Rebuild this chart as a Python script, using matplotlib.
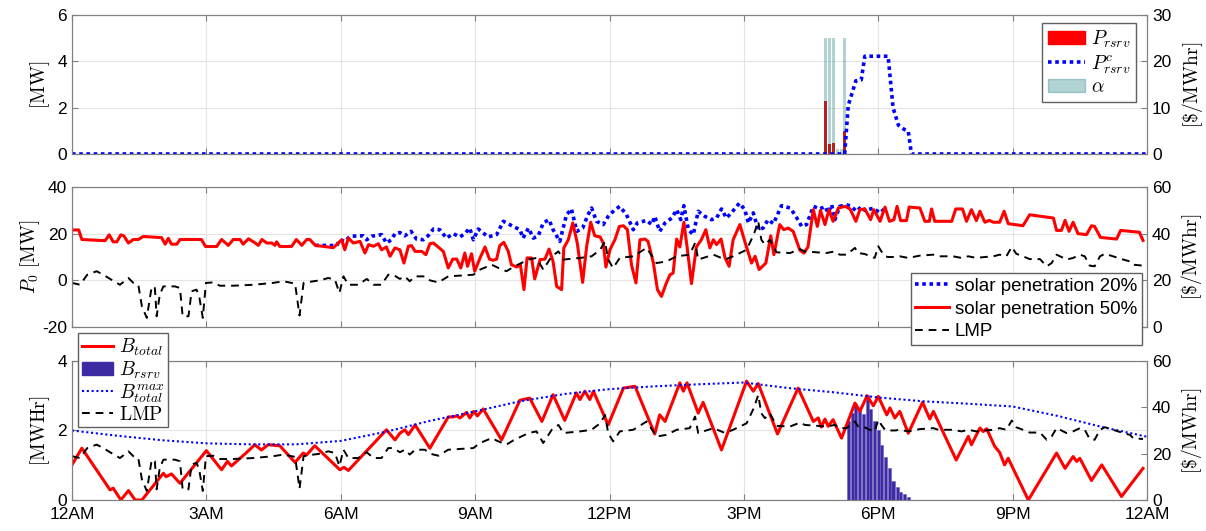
import numpy as np
import matplotlib
matplotlib.use('Agg')
import matplotlib.pyplot as plt
from matplotlib.patches import Patch
from matplotlib.lines import Line2D

plt.rcParams['font.family'] = ['Liberation Sans', 'DejaVu Sans']
plt.rcParams['mathtext.fontset'] = 'cm'
plt.rcParams['axes.unicode_minus'] = False

# ---------------- data (hour of day, value) ----------------
# top panel: reserve power bars (5 min slots) and reserve price
rsrv_hours = [16.83, 16.92, 17.0, 17.08, 17.17, 17.25]
p_rsrv = [2.29, 0.45, 0.48, 0.0, 0.0, 1.0]
alpha = [5.0, 5.0, 5.0, 0.2, 0.2, 5.0]
price_rsrv_pts = [(0, 0), (17.25, 0), (17.33, 10.5), (17.42, 13.3), (17.5, 15.8),
                  (17.62, 16.0), (17.7, 21.1), (18.22, 21.1), (18.33, 10.0),
                  (18.45, 6.2), (18.58, 5.3), (18.67, 4.9), (18.74, 0), (24, 0)]

# middle panel: P0 for 50% solar
p0_50_pts = [
    (0, 21.6), (0.15, 21.6), (0.22, 17.5), (0.74, 17.0), (0.83, 19.5), (0.92, 16.5),
    (1.0, 16.5), (1.09, 19.5), (1.16, 19.0), (1.26, 16.0), (1.37, 17.5), (1.48, 17.5),
    (1.59, 18.8), (2.0, 18.3), (2.08, 15.5), (2.15, 18.0), (2.22, 15.5), (2.34, 15.5),
    (2.41, 17.5), (2.89, 17.5), (2.98, 14.5), (3.23, 14.5), (3.34, 17.5), (3.49, 15.0),
    (3.6, 17.5), (3.75, 17.5), (3.82, 15.5), (3.94, 17.8), (4.05, 16.5), (4.16, 15.0),
    (4.24, 17.5), (4.35, 16.0), (4.46, 16.0), (4.53, 15.0), (4.57, 16.5), (4.64, 14.5),
    (4.9, 14.5), (5.01, 17.5), (5.13, 15.0), (5.24, 17.5), (5.31, 17.5), (5.43, 15.0),
    (5.83, 14.0), (5.91, 15.3), (6.02, 17.4), (6.09, 13.1), (6.17, 18.1), (6.28, 16.0),
    (6.43, 16.7), (6.54, 11.7), (6.62, 15.3), (6.73, 14.6), (6.84, 15.7), (6.91, 13.1),
    (7.02, 14.3), (7.1, 10.3), (7.21, 13.9), (7.32, 13.1), (7.41, 7.4), (7.51, 14.6),
    (7.58, 14.9), (7.66, 12.4), (7.81, 12.4), (7.9, 11.0), (7.99, 15.7), (8.07, 16.0),
    (8.29, 12.4), (8.4, 5.3), (8.5, 9.1), (8.59, 9.1), (8.68, 5.3), (8.77, 11.7),
    (8.83, 6.0), (8.92, 11.4), (8.99, 3.9), (9.11, 9.6), (9.22, 14.3), (9.32, 9.1),
    (9.4, 8.6), (9.48, 9.1), (9.55, 14.9), (9.64, 16.3), (9.74, 12.4), (9.81, 6.7),
    (9.93, 5.7), (10.01, 6.7), (10.09, -4.0), (10.16, 9.6), (10.26, 9.6), (10.33, 0.6),
    (10.45, 8.9), (10.56, 9.1), (10.65, 13.4), (10.74, 8.1), (10.82, -2.6), (10.93, -4.0),
    (10.98, 13.9), (11.08, 17.4), (11.18, 24.6), (11.28, 16.0), (11.4, -0.9), (11.49, 14.6),
    (11.58, 24.9), (11.67, 19.1), (11.79, 18.6), (11.86, 16.0), (11.92, 5.7), (12.01, 13.1),
    (12.12, 17.4), (12.22, 23.1), (12.31, 23.4), (12.4, 21.7), (12.49, 6.7), (12.59, -1.1),
    (12.68, 17.4), (12.79, 17.7), (12.86, 16.7), (12.98, 7.4), (13.07, -4.0), (13.16, -6.9),
    (13.27, -1.1), (13.35, 2.4), (13.42, 3.1), (13.5, 17.7), (13.57, 14.3), (13.66, 24.9),
    (13.73, 14.6), (13.83, -1.4), (13.94, 14.3), (14.05, 17.4), (14.15, 21.7), (14.24, 13.9),
    (14.32, 17.4), (14.39, 15.3), (14.49, 17.7), (14.58, 9.6), (14.67, 6.0), (14.76, 17.4),
    (14.91, 23.9), (15.02, 16.7), (15.17, 7.4), (15.25, 10.3), (15.34, 4.6), (15.49, 7.4),
    (15.6, 19.1), (15.67, 11.0), (15.8, 23.9), (15.89, 21.7), (15.99, 22.4), (16.1, 21.0),
    (16.25, 12.9), (16.34, 11.7), (16.43, 14.3), (16.55, 30.3), (16.64, 23.1), (16.71, 30.0),
    (16.81, 23.9), (16.9, 30.3), (16.99, 25.3), (17.11, 31.0), (17.26, 31.7), (17.37, 30.6),
    (17.5, 25.3), (17.59, 30.3), (17.7, 30.6), (17.83, 26.0), (17.9, 30.3), (18.04, 25.3),
    (18.15, 31.4), (18.25, 25.3), (18.35, 26.0), (18.42, 31.7), (18.5, 25.6), (18.63, 25.6),
    (18.69, 31.4), (18.93, 31.0), (19.04, 25.3), (19.14, 25.3), (19.19, 30.6), (19.26, 25.3),
    (19.64, 25.3), (19.73, 30.6), (19.88, 30.6), (19.97, 25.3), (20.08, 30.3), (20.19, 25.6),
    (20.27, 29.6), (20.38, 24.9), (20.48, 25.7), (20.57, 24.9), (20.71, 24.9), (20.81, 29.6),
    (20.9, 24.3), (21.23, 23.4), (21.38, 28.1), (21.91, 26.7), (21.98, 21.4), (22.09, 21.4),
    (22.17, 25.7), (22.26, 21.0), (22.35, 24.9), (22.46, 20.0), (22.65, 19.6), (22.76, 23.4),
    (22.83, 23.1), (22.96, 18.4), (23.32, 17.7), (23.41, 21.4), (23.83, 20.6), (23.91, 17.1)]

# middle panel: P0 for 20% solar (equal to the 50% curve outside this window)
p0_20_pts = [
    (5.43, 15.0), (5.91, 14.9), (5.98, 17.4), (6.09, 16.7), (6.21, 18.9), (6.5, 19.1),
    (6.58, 17.4), (6.69, 18.9), (6.91, 19.6), (7.02, 16.0), (7.13, 17.4), (7.21, 20.0),
    (7.32, 20.5), (7.43, 19.1), (7.57, 21.0), (7.69, 17.7), (7.84, 17.4), (7.95, 19.1),
    (8.07, 22.0), (8.21, 21.7), (8.36, 18.1), (8.51, 20.0), (8.66, 18.6), (8.77, 20.0),
    (8.88, 22.4), (8.96, 17.4), (9.07, 22.0), (9.29, 18.6), (9.48, 19.6), (9.63, 25.3),
    (9.85, 23.1), (10.0, 21.7), (10.07, 18.1), (10.19, 22.4), (10.3, 18.1), (10.41, 19.1),
    (10.52, 24.6), (10.65, 26.0), (10.74, 21.7), (10.89, 16.7), (11.04, 28.1), (11.15, 30.6),
    (11.27, 21.0), (11.4, 22.4), (11.52, 28.1), (11.6, 31.0), (11.71, 25.3), (11.86, 23.9),
    (11.97, 27.4), (12.12, 30.3), (12.23, 31.7), (12.38, 28.1), (12.53, 21.7), (12.62, 24.6),
    (12.83, 25.7), (12.94, 23.9), (13.01, 27.4), (13.12, 21.0), (13.24, 24.6), (13.39, 26.7),
    (13.5, 30.3), (13.59, 26.0), (13.66, 32.0), (13.76, 21.7), (13.87, 19.6), (13.98, 29.6),
    (14.13, 27.4), (14.28, 26.0), (14.39, 26.7), (14.5, 30.6), (14.61, 26.7), (14.72, 28.9),
    (14.9, 33.1), (15.02, 30.3), (15.1, 24.6), (15.21, 28.9), (15.32, 21.7), (15.43, 22.4),
    (15.54, 26.0), (15.66, 24.3), (15.84, 32.0), (16.03, 31.0), (16.14, 28.1), (16.29, 23.1),
    (16.4, 23.9), (16.55, 31.7), (16.7, 30.6), (16.81, 31.7), (16.88, 28.9), (16.96, 32.4),
    (17.03, 26.0), (17.14, 31.7), (17.29, 32.4), (17.4, 31.7), (17.51, 29.6), (17.63, 31.7),
    (17.7, 30.0), (17.89, 30.9), (18.04, 28.9), (18.18, 31.4)]

# LMP [$/MWhr], shared by middle and bottom panels
lmp_pts = [
    (0, 18.9), (0.18, 18.1), (0.34, 22.4), (0.55, 23.9), (0.7, 22.4), (0.85, 20.6),
    (1.07, 18.1), (1.26, 21.0), (1.37, 18.9), (1.48, 18.1), (1.56, 8.9), (1.67, 3.9),
    (1.78, 17.4), (1.85, 16.7), (1.89, 4.6), (1.96, 13.9), (2.04, 17.4), (2.3, 17.4),
    (2.41, 16.7), (2.47, 4.6), (2.6, 4.6), (2.67, 15.3), (2.78, 16.0), (2.84, 13.1),
    (2.92, 3.9), (2.99, 18.9), (3.15, 19.1), (3.3, 17.7), (3.6, 17.7), (4.05, 18.1),
    (4.49, 18.9), (4.72, 19.6), (4.98, 18.6), (5.08, 4.9), (5.17, 18.9), (5.39, 19.6),
    (5.54, 20.0), (5.72, 21.0), (5.87, 20.3), (5.97, 14.6), (6.06, 21.7), (6.17, 18.1),
    (6.39, 18.1), (6.58, 20.6), (6.73, 18.1), (6.91, 18.1), (7.06, 22.4), (7.17, 22.4),
    (7.32, 20.6), (7.43, 21.7), (7.54, 19.6), (7.66, 21.7), (7.88, 21.7), (7.99, 20.0),
    (8.18, 19.1), (8.4, 21.7), (8.96, 22.4), (9.11, 24.6), (9.37, 26.7), (9.52, 25.3),
    (9.7, 23.9), (9.85, 25.7), (10.19, 28.9), (10.37, 29.6), (10.52, 24.6), (10.71, 30.3),
    (10.86, 32.4), (10.97, 28.9), (11.34, 29.6), (11.6, 30.3), (11.79, 33.1), (11.9, 36.7),
    (11.97, 28.9), (12.08, 25.3), (12.23, 29.6), (12.53, 30.3), (12.83, 33.9), (13.05, 27.4),
    (13.27, 28.1), (13.5, 30.3), (13.79, 31.0), (13.91, 36.0), (13.98, 28.9), (14.32, 31.0),
    (14.58, 28.9), (14.76, 30.3), (15.06, 33.1), (15.22, 39.6), (15.32, 45.3), (15.39, 37.4),
    (15.47, 35.3), (15.58, 37.4), (15.73, 32.0), (16.03, 31.7), (16.25, 33.4), (16.36, 32.4),
    (16.84, 31.7), (17.03, 32.4), (17.14, 31.0), (17.29, 31.0), (17.48, 33.9), (17.55, 31.7),
    (17.7, 31.3), (17.81, 30.3), (17.92, 29.6), (18.0, 34.6), (18.07, 32.4), (18.15, 30.3),
    (18.22, 30.0), (18.37, 30.0), (18.48, 30.3), (18.67, 29.6), (18.93, 30.6), (19.23, 31.0),
    (19.34, 30.3), (19.67, 30.3), (19.86, 29.6), (20.01, 30.3), (20.19, 29.6), (20.38, 30.0),
    (20.57, 30.3), (20.71, 31.0), (20.86, 30.3), (20.98, 34.3), (21.08, 31.4), (21.23, 30.3),
    (21.38, 29.1), (21.61, 29.1), (21.76, 26.0), (21.87, 27.4), (21.98, 31.0), (22.09, 30.0),
    (22.2, 28.9), (22.35, 29.6), (22.5, 31.0), (22.61, 30.3), (22.72, 26.3), (22.83, 26.0),
    (22.95, 30.3), (23.06, 31.4), (23.24, 30.3), (23.47, 28.9), (23.62, 28.1), (23.69, 26.7),
    (23.91, 26.3)]

# bottom panel: battery energy [MWhr]
b_total_pts = [
    (0, 1.01), (0.22, 1.49), (0.85, 0.29), (0.92, 0.34), (1.09, 0.0), (1.26, 0.27),
    (1.41, 0.0), (1.56, 0.0), (2.04, 0.77), (2.1, 0.67), (2.22, 0.75), (2.41, 0.48),
    (3.0, 1.42), (3.34, 0.87), (3.47, 1.11), (3.56, 0.98), (3.9, 1.37), (4.08, 1.59),
    (4.23, 1.44), (4.38, 1.59), (4.64, 1.56), (4.98, 1.08), (5.16, 1.35), (5.24, 1.3),
    (5.42, 1.56), (5.98, 0.87), (6.07, 0.94), (6.17, 0.85), (7.02, 2.02), (7.21, 1.73),
    (7.32, 1.92), (7.43, 2.02), (7.51, 1.88), (7.66, 2.16), (7.99, 1.49), (8.4, 2.39),
    (8.51, 2.39), (8.59, 2.42), (8.66, 2.36), (8.81, 2.52), (8.88, 2.36), (8.97, 2.55),
    (9.05, 2.42), (9.18, 2.62), (9.59, 1.73), (10.0, 2.87), (10.22, 2.93), (10.49, 2.26),
    (10.74, 3.03), (11.0, 2.29), (11.26, 3.08), (11.34, 2.89), (11.45, 3.13), (11.56, 2.89),
    (11.64, 3.13), (11.97, 2.16), (12.31, 3.22), (12.57, 3.27), (13.01, 1.9), (13.12, 2.45),
    (13.24, 2.26), (13.57, 3.37), (13.65, 3.13), (13.73, 3.37), (13.98, 2.5), (14.09, 2.81),
    (14.5, 1.44), (15.06, 3.42), (15.21, 3.13), (15.32, 3.35), (15.75, 1.9), (16.21, 3.22),
    (16.55, 2.26), (16.66, 2.36), (16.73, 2.1), (16.81, 2.33), (16.88, 2.12), (16.99, 2.31),
    (17.18, 1.78), (17.48, 2.79), (17.59, 2.55), (17.75, 3.0), (17.89, 2.71), (18.0, 2.98),
    (18.19, 2.45), (18.26, 2.65), (18.37, 2.36), (18.48, 2.55), (18.67, 1.92), (18.99, 2.81),
    (19.15, 2.33), (19.23, 2.55), (19.74, 1.15), (20.01, 1.83), (20.08, 1.59), (20.27, 2.07),
    (20.34, 1.97), (20.42, 2.05), (20.6, 1.54), (20.71, 1.37), (20.82, 1.01), (20.9, 1.2),
    (21.35, 0.0), (21.98, 1.35), (22.17, 0.91), (22.35, 1.25), (22.43, 1.11), (22.5, 1.2),
    (22.76, 0.56), (22.99, 1.01), (23.43, 0.1), (23.91, 0.91)]

bmax_hours = list(range(25))
b_total_max = [2.0, 1.85, 1.72, 1.63, 1.6, 1.6, 1.7, 1.96, 2.28, 2.55, 2.84, 3.05,
               3.19, 3.27, 3.33, 3.38, 3.22, 3.1, 2.95, 2.84, 2.77, 2.69, 2.42, 2.1, 1.82]

brsrv_hours = [17.33, 17.42, 17.5, 17.58, 17.67, 17.75, 17.83, 17.92, 18.0, 18.08,
               18.17, 18.25, 18.33, 18.42, 18.5, 18.58, 18.67]
b_rsrv = [2.28, 2.5, 2.75, 2.65, 2.47, 3.02, 2.63, 2.28, 2.0, 1.59, 1.25, 0.91,
          0.55, 0.38, 0.24, 0.16, 0.09]

xtick_hours = [0, 3, 6, 9, 12, 15, 18, 21, 24]
xtick_labels = ['12AM', '3AM', '6AM', '9AM', '12PM', '3PM', '6PM', '9PM', '12AM']

# ---------------- styling helpers ----------------
GRAY = '#808080'
FS = 12.5
RED = '#ff0000'
BLUE = '#0000ff'
DOT = (0, (1, 1))
DASH = (0, (4, 3))


def style(ax, show_x):
    ax.set_xlim(0, 24)
    ax.set_xticks(xtick_hours)
    if show_x:
        ax.set_xticklabels(xtick_labels)
    else:
        ax.set_xticklabels([])
    for s in ax.spines.values():
        s.set_color(GRAY)
        s.set_linewidth(0.8)
    ax.tick_params(direction='in', length=4, color=GRAY, labelsize=FS,
                   top=True, labelcolor='black')
    ax.tick_params(axis='x', pad=5)
    ax.grid(True, color='#e4e4e4', linewidth=0.8)
    ax.set_axisbelow(True)


def style_right(axr):
    for s in axr.spines.values():
        s.set_color(GRAY)
        s.set_linewidth(0.8)
    axr.tick_params(direction='in', length=4, color=GRAY, labelsize=FS,
                    labelcolor='black')


def unzip(pts):
    t, v = zip(*pts)
    return np.array(t), np.array(v)


fig = plt.figure(figsize=(12.06, 5.31), dpi=100)
L, W = 0.0597, 0.8914
ax1 = fig.add_axes([L, 0.7100, W, 0.2618])
ax2 = fig.add_axes([L, 0.3842, W, 0.2636])
ax3 = fig.add_axes([L, 0.0584, W, 0.2618])

# ---------------- top panel ----------------
style(ax1, False)
ax1.bar(rsrv_hours, p_rsrv, width=0.066, color=RED, zorder=2)
ax1.bar(rsrv_hours, alpha, width=0.066, color='#007070', alpha=0.3, zorder=3)
ax1.set_ylim(0, 6)
ax1.set_yticks([0, 2, 4, 6])
ax1.set_ylabel(r'$[\mathrm{MW}]$', fontsize=14, labelpad=4)
ax1r = ax1.twinx()
style_right(ax1r)
t, v = unzip(price_rsrv_pts)
ax1r.plot(t, v, color=BLUE, lw=2.6, linestyle=DOT)
ax1r.set_ylim(0, 30)
ax1r.set_yticks([0, 10, 20, 30])
ax1r.set_ylabel(r'$[\$/\mathrm{MWhr}]$', fontsize=14, labelpad=6)
h1 = [Patch(color=RED), Line2D([], [], color=BLUE, lw=2.6, linestyle=DOT),
      Patch(color='#007070', alpha=0.3)]
ax1r.legend(h1, [r'$P_{rsrv}$', r'$P^c_{rsrv}$', r'$\alpha$'], loc='upper right',
            bbox_to_anchor=(0.99, 0.945), borderaxespad=0, fontsize=14,
            fancybox=False, edgecolor='#606060', framealpha=1, handlelength=1.9,
            handletextpad=0.3, labelspacing=0.15, borderpad=0.3)

# ---------------- middle panel ----------------
style(ax2, False)
t, v = unzip(p0_20_pts)
ax2.plot(t, v, color=BLUE, lw=2.6, linestyle=DOT)
t, v = unzip(p0_50_pts)
ax2.plot(t, v, color=RED, lw=2.2)
ax2.set_ylim(-20, 40)
ax2.set_yticks([-20, 0, 20, 40])
ax2.set_ylabel(r'$P_0\ [\mathrm{MW}]$', fontsize=14, labelpad=0)
ax2r = ax2.twinx()
style_right(ax2r)
t, v = unzip(lmp_pts)
ax2r.plot(t, v, color='black', lw=1.4, linestyle=DASH)
ax2r.set_ylim(0, 60)
ax2r.set_yticks([0, 20, 40, 60])
ax2r.set_ylabel(r'$[\$/\mathrm{MWhr}]$', fontsize=14, labelpad=6)
h2 = [Line2D([], [], color=BLUE, lw=2.6, linestyle=DOT),
      Line2D([], [], color=RED, lw=2.2),
      Line2D([], [], color='black', lw=1.4, linestyle=DASH)]
ax2r.legend(h2, ['solar penetration 20%', 'solar penetration 50%', 'LMP'],
            loc='upper right', bbox_to_anchor=(0.995, 0.386), borderaxespad=0,
            fontsize=13.5, fancybox=False, edgecolor='#606060', framealpha=1,
            handlelength=1.8, handletextpad=0.3, labelspacing=0.3, borderpad=0.25)

# ---------------- bottom panel ----------------
style(ax3, True)
ax3.bar(brsrv_hours, b_rsrv, width=0.07, color='#3d2ba4', edgecolor='#6a5cc0',
        linewidth=0.4, zorder=2)
t, v = unzip(b_total_pts)
ax3.plot(t, v, color=RED, lw=2.2, zorder=3)
ax3.plot(bmax_hours, b_total_max, color=BLUE, lw=1.5, linestyle=(0, (1, 1.3)), zorder=3)
ax3.set_ylim(0, 4)
ax3.set_yticks([0, 2, 4])
ax3.set_ylabel(r'$[\mathrm{MWHr}]$', fontsize=14, labelpad=4)
ax3r = ax3.twinx()
style_right(ax3r)
t, v = unzip(lmp_pts)
ax3r.plot(t, v, color='black', lw=1.4, linestyle=DASH)
ax3r.set_ylim(0, 60)
ax3r.set_yticks([0, 20, 40, 60])
ax3r.set_ylabel(r'$[\$/\mathrm{MWhr}]$', fontsize=14, labelpad=6)
h3 = [Line2D([], [], color=RED, lw=2.2), Patch(color='#3d2ba4'),
      Line2D([], [], color=BLUE, lw=1.5, linestyle=(0, (1, 1.3))),
      Line2D([], [], color='black', lw=1.4, linestyle=DASH)]
ax3r.legend(h3, [r'$B_{total}$', r'$B_{rsrv}$', r'$B^{max}_{total}$', r'$\mathrm{LMP}$'],
            loc='upper left', bbox_to_anchor=(0.0056, 1.2), borderaxespad=0,
            fontsize=14, fancybox=False, edgecolor='#606060', framealpha=1,
            handlelength=1.6, handletextpad=0.3, labelspacing=0.05, borderpad=0.2)

fig.savefig('out.png', dpi=100)
